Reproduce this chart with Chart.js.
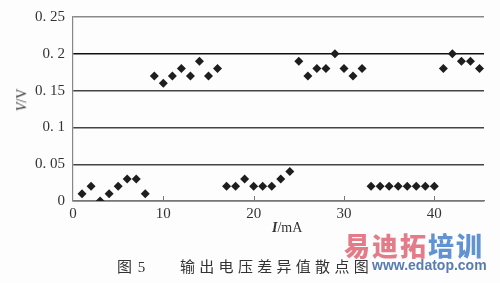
<!DOCTYPE html>
<html>
<head>
<meta charset="utf-8">
<script src="https://cdn.jsdelivr.net/npm/chart.js@4"></script>
<style>
  html, body { margin: 0; padding: 0; background: #fdfdfd; }
  #wrap { position: relative; width: 500px; height: 283px; overflow: hidden; }
  #chart { position: absolute; left: 0; top: 0; }
  .lbl { position: absolute; white-space: nowrap; color: #333; }
  .serif { font-family: 'Liberation Serif', 'DejaVu Serif', serif; }
  .cjk { font-family: 'Noto Sans CJK SC', sans-serif; }
</style>
</head>
<body>
<div id="wrap">
  <canvas id="chart" width="500" height="283"></canvas>
  <div class="lbl serif" style="left:11px;top:92px;font-size:14px;transform:rotate(-90deg);transform-origin:center;"><i>V</i>/V</div>
  <div class="lbl serif" style="left:272px;top:220px;font-size:14px;"><i><b>I</b></i>/mA</div>
  <div class="lbl cjk" style="left:117px;top:255px;font-size:15px;letter-spacing:1px;">图<span class="serif"> 5</span></div>
  <div class="lbl cjk" style="left:180px;top:255px;font-size:15px;letter-spacing:4.3px;">输出电压差异值散点图</div>
  <div class="lbl cjk" style="left:344px;top:226px;font-size:26px;font-weight:900;letter-spacing:2px;color:rgba(222,100,115,0.85);">易迪拓<span style="color:rgba(80,135,205,0.9);">培训</span></div>
  <div class="lbl" style="left:372px;top:257px;font-size:14px;font-weight:bold;font-family:'Liberation Sans',sans-serif;color:rgba(70,110,170,0.9);">www.edatop.com</div>
</div>
<script>
// I/mA 1..45
const currents = [
  1, 2, 3, 4, 5, 6, 7, 8, 9, 10, 11, 12, 13, 14, 15,
  16, 17, 18, 19, 20, 21, 22, 23, 24, 25, 26, 27, 28, 29, 30,
  31, 32, 33, 34, 35, 36, 37, 38, 39, 40, 41, 42, 43, 44, 45
];
// V/V
const voltDiff = [
  0.01, 0.02, 0, 0.01, 0.02, 0.03, 0.03, 0.01, 0.17, 0.16, 0.17, 0.18, 0.17, 0.19, 0.17,
  0.18, 0.02, 0.02, 0.03, 0.02, 0.02, 0.02, 0.03, 0.04, 0.19, 0.17, 0.18, 0.18, 0.2, 0.18,
  0.17, 0.18, 0.02, 0.02, 0.02, 0.02, 0.02, 0.02, 0.02, 0.02, 0.18, 0.2, 0.19, 0.19, 0.18
];
const xTicks = [0, 10, 20, 30, 40];
const yTicks = [0, 0.05, 0.1, 0.15, 0.2, 0.25];
const yTickLabels = ['0', '0. 05', '0. 1', '0. 15', '0. 2', '0. 25'];

// small tick marks on the x axis pointing up into the plot
const innerTicks = {
  id: 'innerTicks',
  afterDatasetsDraw(chart) {
    const { ctx, scales: { x }, chartArea } = chart;
    ctx.save();
    ctx.strokeStyle = '#777';
    ctx.lineWidth = 1;
    xTicks.forEach((v) => {
      if (v === 0) return;
      const px = Math.round(x.getPixelForValue(v)) + 0.5;
      ctx.beginPath();
      ctx.moveTo(px, chartArea.bottom);
      ctx.lineTo(px, chartArea.bottom - 5);
      ctx.stroke();
    });
    ctx.restore();
  }
};

new Chart(document.getElementById('chart'), {
  type: 'scatter',
  data: {
    datasets: [{
      data: currents.map((c, i) => ({ x: c, y: voltDiff[i] })),
      pointStyle: 'rectRot',
      pointRadius: 4.5,
      backgroundColor: '#1e1e1e',
      borderColor: '#1e1e1e',
      borderWidth: 0
    }]
  },
  options: {
    responsive: false,
    animation: false,
    layout: { padding: { top: 16, right: 16, left: 0, bottom: 0 } },
    plugins: { legend: { display: false }, tooltip: { enabled: false } },
    scales: {
      x: {
        type: 'linear',
        min: 0,
        max: 45.5,
        afterBuildTicks: (s) => { s.ticks = xTicks.map((v) => ({ value: v })); },
        afterFit: (s) => { s.height = 82; },
        grid: { display: false, drawTicks: false },
        border: { display: true, color: '#777', width: 1.2 },
        ticks: {
          padding: 4,
          color: '#333',
          font: { family: 'Liberation Serif', size: 15 }
        }
      },
      y: {
        min: 0,
        max: 0.25,
        afterBuildTicks: (s) => { s.ticks = yTicks.map((v) => ({ value: v })); },
        afterFit: (s) => { s.width = 73; },
        grid: {
          drawTicks: false,
          color: (c) => (c.tick && c.tick.value === 0.25 ? '#8a8a8a' : (c.tick && c.tick.value === 0.2 ? '#111' : '#444')),
          lineWidth: 1.4
        },
        border: { display: true, color: '#888', width: 1.2 },
        ticks: {
          padding: 8,
          color: '#333',
          font: { family: 'Liberation Serif', size: 15 },
          callback: (v) => {
            const i = yTicks.findIndex((t) => Math.abs(t - v) < 1e-9);
            return i >= 0 ? yTickLabels[i] : '';
          }
        }
      }
    }
  },
  plugins: [innerTicks]
});
</script>
</body>
</html>
